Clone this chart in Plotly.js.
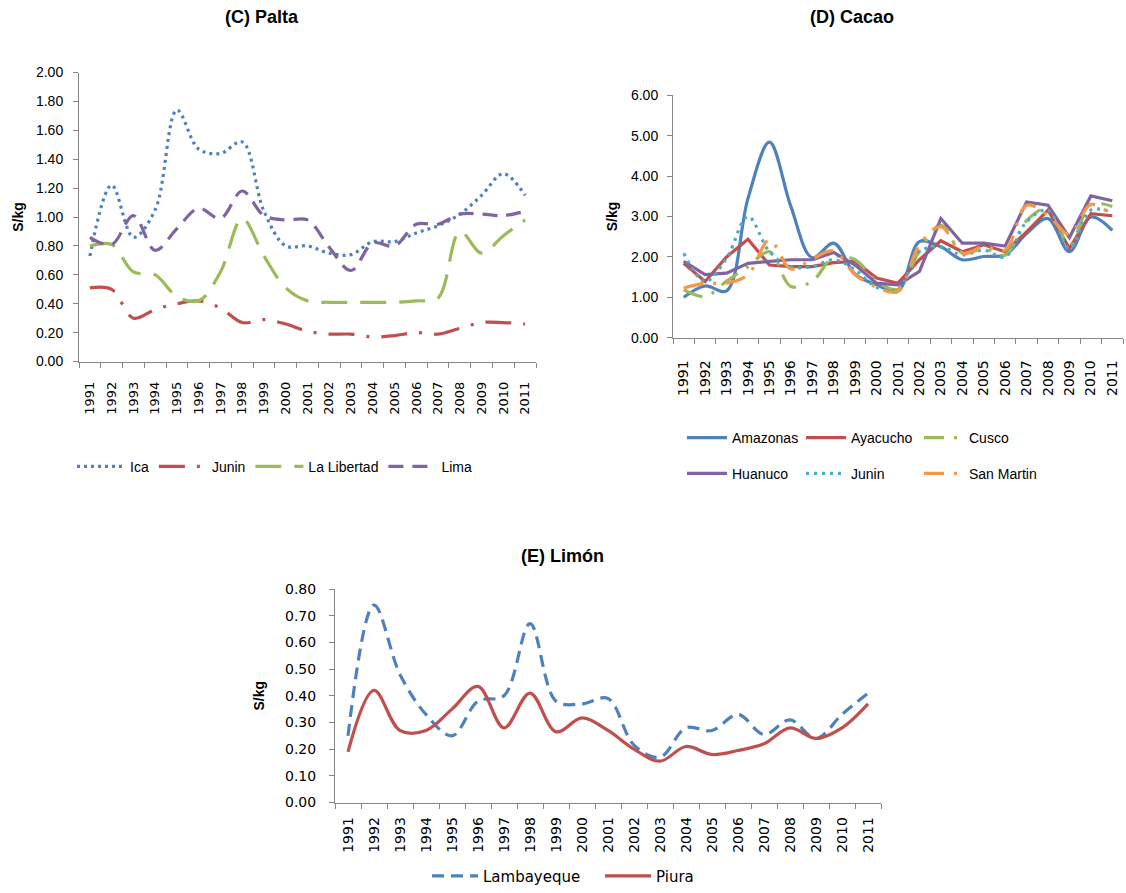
<!DOCTYPE html>
<html><head><meta charset="utf-8">
<script src="https://cdn.plot.ly/plotly-3.0.1.min.js"></script>
<style>html,body{margin:0;padding:0;background:#fff}#chart{width:1126px;height:893px}</style>
</head><body><div id="chart"></div>
<script>
const years = ['1991','1992','1993','1994','1995','1996','1997','1998','1999','2000','2001','2002','2003','2004','2005','2006','2007','2008','2009','2010','2011'];

// (C) Palta
const paltaIca       = [0.73,1.22,0.86,1.05,1.74,1.47,1.44,1.52,1.04,0.80,0.80,0.75,0.74,0.83,0.83,0.89,0.94,1.02,1.15,1.30,1.15];
const paltaJunin     = [0.51,0.50,0.30,0.36,0.40,0.42,0.37,0.27,0.29,0.26,0.21,0.19,0.19,0.17,0.18,0.20,0.19,0.23,0.27,0.27,0.26];
const paltaLibertad  = [0.80,0.81,0.62,0.60,0.45,0.42,0.62,0.99,0.73,0.51,0.42,0.41,0.41,0.41,0.41,0.42,0.44,0.90,0.75,0.87,0.98];
const paltaLima      = [0.86,0.81,1.01,0.77,0.92,1.06,0.99,1.18,1.01,0.98,0.98,0.79,0.63,0.82,0.80,0.95,0.95,1.02,1.02,1.01,1.04];

// (D) Cacao
const cacaoAmazonas  = [1.00,1.28,1.16,3.45,4.84,3.25,1.98,2.34,1.57,1.31,1.15,2.38,2.25,1.93,2.01,2.05,2.58,2.95,2.13,2.99,2.66];
const cacaoAyacucho  = [1.84,1.39,2.00,2.44,1.80,1.76,1.76,1.86,1.89,1.48,1.35,1.93,2.40,2.13,2.30,2.13,2.62,3.16,2.21,3.07,3.02];
const cacaoCusco     = [1.19,1.02,1.40,1.76,2.13,1.27,1.40,2.00,1.93,1.40,1.20,2.15,2.79,2.10,2.20,2.05,2.90,3.20,2.30,3.30,3.25];
const cacaoHuanuco   = [1.89,1.56,1.60,1.84,1.89,1.93,1.93,2.11,1.80,1.35,1.31,1.64,2.95,2.34,2.34,2.27,3.36,3.28,2.48,3.51,3.39];
const cacaoJunin     = [2.09,1.39,1.97,3.00,2.13,1.76,1.76,1.93,1.68,1.25,1.20,2.13,2.25,2.05,2.17,2.00,2.87,3.16,2.21,3.16,3.10];
const cacaoSanMartin = [1.23,1.35,1.35,1.56,2.42,1.70,1.95,2.15,1.56,1.25,1.15,2.30,2.75,2.09,2.25,2.17,3.28,3.03,2.56,3.30,3.03];

// (E) Limón
const limonLambayeque = [0.25,0.74,0.48,0.33,0.25,0.38,0.40,0.67,0.38,0.37,0.39,0.215,0.17,0.28,0.27,0.33,0.255,0.31,0.24,0.33,0.41];
const limonPiura      = [0.19,0.42,0.27,0.27,0.35,0.435,0.28,0.41,0.265,0.317,0.27,0.20,0.155,0.21,0.18,0.195,0.22,0.28,0.24,0.28,0.37];

const C = {blue:'#4F81BD', red:'#C0504D', green:'#9BBB59', purple:'#8064A2', teal:'#4BACC6', orange:'#F79646'};
const FONT = 'Arial, "Liberation Sans", sans-serif';
const VFONT = '"DejaVu Sans", Verdana, sans-serif';

function tr(name, y, color, dash, xa, ya, legend, shape) {
  return {type:'scatter', mode:'lines', name:name, x:years, y:y, xaxis:xa, yaxis:ya, legend:legend,
    line:{color:color, width:3.2, dash:dash, shape:shape||'spline', smoothing:1}, hoverinfo:'skip'};
}

const data = [
  tr('Ica', paltaIca, C.blue, '3px,4px', 'x', 'y', 'legend'),
  tr('Junin', paltaJunin, C.red, '26px,12px,3px,12px', 'x', 'y', 'legend'),
  tr('La Libertad', paltaLibertad, C.green, '26px,13px', 'x', 'y', 'legend'),
  tr('Lima', paltaLima, C.purple, '15px,9px', 'x', 'y', 'legend'),

  tr('Amazonas', cacaoAmazonas, C.blue, 'solid', 'x2', 'y2', 'legend2'),
  tr('Ayacucho', cacaoAyacucho, C.red, 'solid', 'x2', 'y2', 'legend3', 'linear'),
  tr('Cusco', cacaoCusco, C.green, '20px,10px,3px,10px', 'x2', 'y2', 'legend4'),
  tr('Huanuco', cacaoHuanuco, C.purple, 'solid', 'x2', 'y2', 'legend5', 'linear'),
  tr('Junin', cacaoJunin, C.teal, '3px,5px', 'x2', 'y2', 'legend6'),
  tr('San Martin', cacaoSanMartin, C.orange, '20px,10px,3px,10px', 'x2', 'y2', 'legend7'),

  tr('Lambayeque', limonLambayeque, C.blue, '12px,7px', 'x3', 'y3', 'legend8'),
  tr('Piura', limonPiura, C.red, 'solid', 'x3', 'y3', 'legend9')
];

function xax(domain, anchor, size, standoff) {
  return {type:'category', domain:domain, anchor:anchor, range:[-0.5,20.5], tickson:'boundaries',
    ticks:'outside', ticklen:5, tickcolor:'#868686', showline:true, linecolor:'#868686', linewidth:1,
    tickangle:-90, tickfont:{family:VFONT, size:size, color:'#000'}, ticklabelstandoff:standoff,
    showgrid:false, zeroline:false, fixedrange:true};
}
function yax(domain, anchor, range, dtick, font, size, lstand, standoff) {
  return {domain:domain, anchor:anchor, range:range, dtick:dtick, tick0:0, tickformat:'.2f',
    ticks:'outside', ticklen:5, tickcolor:'#868686', showline:true, linecolor:'#868686', linewidth:1,
    tickfont:{family:font, size:size, color:'#000'}, ticklabelstandoff:lstand,
    showgrid:false, zeroline:false, fixedrange:true,
    title:{text:'<b>S/kg</b>', font:{family:FONT, size:14, color:'#000'}, standoff:standoff}};
}
function leg(x, y, font, size, itemwidth) {
  return {x:x, y:y, xanchor:'left', yanchor:'middle', orientation:'h', bgcolor:'rgba(0,0,0,0)',
    font:{family:font, size:size, color:'#000'}, itemwidth:itemwidth, tracegroupgap:0, itemclick:false, itemdoubleclick:false};
}

const W = 1126, H = 893;
const px = (a,b) => [a/W, b/W];
const py = (top,bottom) => [1-bottom/H, 1-top/H];

const layout = {
  width:W, height:H, margin:{l:0,r:0,t:0,b:0}, paper_bgcolor:'#fff', plot_bgcolor:'rgba(0,0,0,0)',
  showlegend:true,
  xaxis: xax(px(79,536), 'y', 13, 14),
  yaxis: yax(py(73,364), 'x', [0,2], 0.2, FONT, 14, 7, 9),
  xaxis2: xax(px(673,1123), 'y2', 14, 16),
  yaxis2: yax(py(96,340), 'x2', [0,6], 1, FONT, 14, 6, 10),
  xaxis3: xax(px(335,881), 'y3', 14, 8),
  yaxis3: yax(py(593,808), 'x3', [0,0.8], 0.1, VFONT, 14, 10, 17),
  legend: leg(72/W, 1-470/H, FONT, 14, 48),
  legend2: leg(682/W, 1-441/H, FONT, 14, 40),
  legend3: leg(801/W, 1-441/H, FONT, 14, 40),
  legend4: leg(919/W, 1-441/H, FONT, 14, 40),
  legend5: leg(682/W, 1-477/H, FONT, 14, 40),
  legend6: leg(801/W, 1-477/H, FONT, 14, 40),
  legend7: leg(919/W, 1-477/H, FONT, 14, 40),
  legend8: leg(427/W, 1-882/H, VFONT, 15, 46),
  legend9: leg(600/W, 1-882/H, VFONT, 15, 46),
  annotations: [
    {text:'<b>(C) Palta</b>', x:262/W, y:1-17/H, xref:'paper', yref:'paper', xanchor:'center', yanchor:'middle', showarrow:false, font:{family:FONT, size:18, color:'#000'}},
    {text:'<b>(D) Cacao</b>', x:852/W, y:1-17/H, xref:'paper', yref:'paper', xanchor:'center', yanchor:'middle', showarrow:false, font:{family:FONT, size:18, color:'#000'}},
    {text:'<b>(E) Limón</b>', x:562/W, y:1-560/H, xref:'paper', yref:'paper', xanchor:'center', yanchor:'middle', showarrow:false, font:{family:FONT, size:18, color:'#000'}}
  ]
};

Plotly.newPlot('chart', data, layout, {displayModeBar:false, staticPlot:true});
</script>
</body></html>
